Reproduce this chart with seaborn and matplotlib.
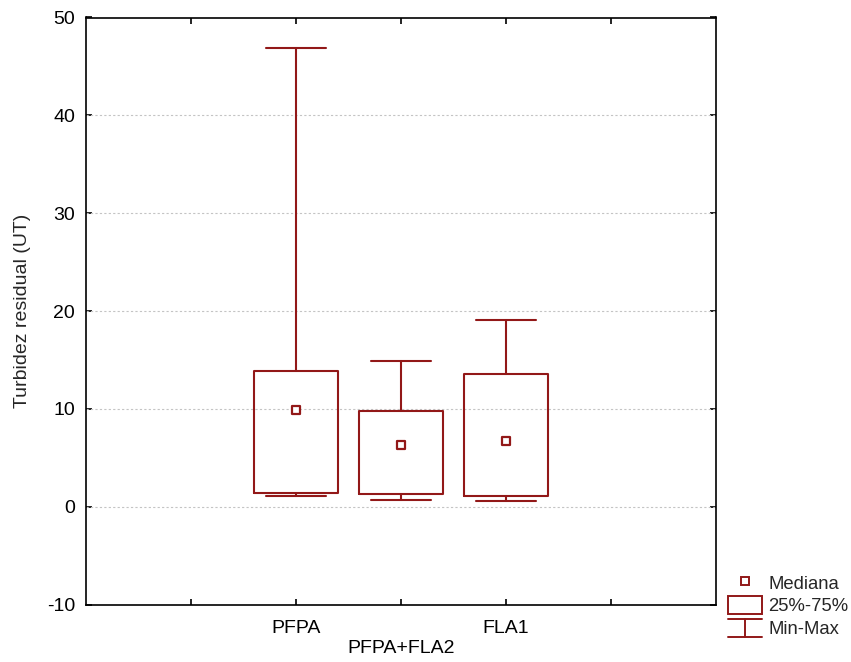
import matplotlib
matplotlib.use("Agg")
import matplotlib.pyplot as plt
import seaborn as sns
import pandas as pd
from matplotlib.lines import Line2D
from matplotlib.patches import Rectangle
from matplotlib.legend_handler import HandlerBase

# summary values
groups = ["PFPA", "PFPA+FLA2", "FLA1"]
minimum = [1.1, 0.65, 0.6]
q1 = [1.42, 1.29, 1.09]
median = [9.85, 6.27, 6.75]
q3 = [13.9, 9.76, 13.52]
maximum = [46.9, 14.85, 19.04]

y_label = "Turbidez residual (UT)"
y_ticks = [-10, 0, 10, 20, 30, 40, 50]

RED = "#921818"
FS = 14

sns.set_style("ticks")
plt.rcParams["font.family"] = ["Liberation Sans", "DejaVu Sans"]
plt.rcParams["font.size"] = FS
plt.rcParams["axes.unicode_minus"] = False


class HandlerMinMax(HandlerBase):
    def create_artists(self, legend, orig_handle, xdescent, ydescent,
                       width, height, fontsize, trans):
        x0, y0 = -xdescent, -ydescent
        xm = x0 + width / 2
        segs = [([x0, x0 + width], [y0 + height, y0 + height]),
                ([xm, xm], [y0, y0 + height]),
                ([x0, x0 + width], [y0, y0])]
        out = []
        for xs, ys in segs:
            ln = Line2D(xs, ys, color=RED, linewidth=1.4)
            ln.set_transform(trans)
            out.append(ln)
        return out


def plot_boxes(save_path="out.png"):
    fig = plt.figure(figsize=(8.51, 6.62), dpi=100)
    ax = fig.add_axes([86 / 851, 1 - 604.5 / 662, 630 / 851, 587 / 662])

    positions = [2, 3, 4]
    stats = []
    for i, g in enumerate(groups):
        stats.append(dict(label=g, whislo=minimum[i], q1=q1[i], med=median[i],
                          q3=q3[i], whishi=maximum[i], fliers=[]))

    lp = dict(color=RED, linewidth=1.5)
    ax.bxp(stats, positions=positions, widths=0.8, capwidths=0.57,
           showfliers=False, boxprops=lp, whiskerprops=lp, capprops=lp,
           medianprops=dict(linewidth=0), manage_ticks=False, zorder=3)

    df = pd.DataFrame({"pos": positions, "median": median})
    sns.scatterplot(data=df, x="pos", y="median", marker="s", s=40,
                    facecolor="white", edgecolor=RED, linewidth=1.6,
                    ax=ax, zorder=4, legend=False)

    ax.set_xlim(0, 6)
    ax.set_ylim(-10, 50)
    ax.set_yticks(y_ticks)
    ax.set_xticks([1, 2, 3, 4, 5])
    ax.set_xticklabels(["", "PFPA", "\nPFPA+FLA2", "FLA1", ""])
    ax.get_xticklabels()[2].set_linespacing(1.25)
    ax.set_xlabel("")
    ax.set_ylabel(y_label, labelpad=11, fontsize=FS)

    for y in y_ticks[1:-1]:
        ax.axhline(y, color="#c4c4c4", linewidth=0.8, linestyle=(0, (2, 2)), zorder=1)

    for sp in ax.spines.values():
        sp.set_visible(True)
        sp.set_color("black")
        sp.set_linewidth(1.2)
    ax.tick_params(axis="both", direction="in", length=4, width=1.2,
                   top=True, right=True, labelsize=FS, colors="black")
    ax.tick_params(axis="x", pad=11)
    ax.tick_params(axis="y", pad=8)

    handles = [Line2D([], [], marker="s", linestyle="none", markersize=6,
                      markerfacecolor="white", markeredgecolor=RED, markeredgewidth=1.4),
               Rectangle((0, 0), 1, 1, facecolor="white", edgecolor=RED, linewidth=1.4),
               Line2D([], [])]
    labels = ["Mediana", "25%-75%", "Min-Max"]
    fig.legend(handles, labels, loc="upper left",
               bbox_to_anchor=(721 / 851, 1 - 566 / 662),
               frameon=False, fontsize=13.3, handlelength=1.82, handleheight=1.1,
               handletextpad=0.35, labelspacing=0.2, borderaxespad=0,
               handler_map={handles[2]: HandlerMinMax()})

    fig.savefig(save_path, dpi=100)


plot_boxes()
